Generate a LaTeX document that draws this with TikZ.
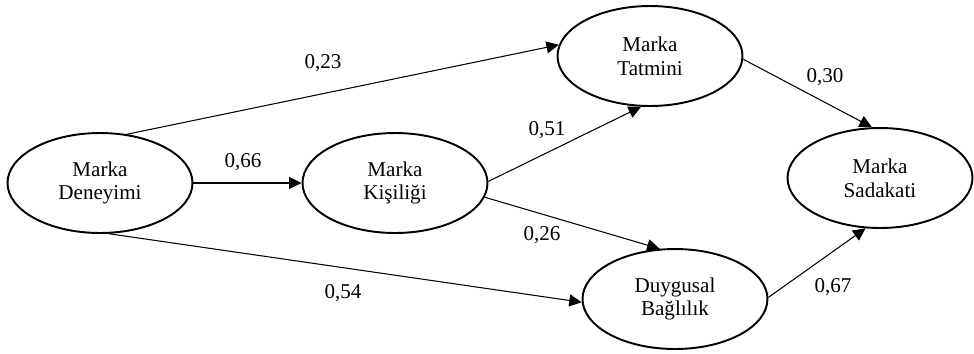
\documentclass[tikz,border=0pt]{standalone}
\usepackage{fontspec}
\setmainfont{Liberation Serif}
\usetikzlibrary{shapes.geometric,arrows.meta}

\begin{document}
\begin{tikzpicture}[x=0.02cm,y=-0.02cm,
    construct/.style={draw,ellipse,line width=1.1pt,minimum width=3.7cm,minimum height=2cm,
      inner sep=0pt,align=center,font=\fontsize{12}{13.5}\selectfont},
    effect/.style={-{Triangle[length=2.5mm,width=2.4mm]},line width=0.6pt},
    coef/.style={font=\fontsize{12}{13.5}\selectfont}]
    \useasboundingbox (0,0) rectangle (974,353);
    % constructs
    \node[construct] (den) at (100,183) {Marka\\Deneyimi};
    \node[construct] (kis) at (395,183) {Marka\\Ki\c{s}ili\u{g}i};
    \node[construct] (tat) at (650,56) {Marka\\Tatmini};
    \node[construct] (duy) at (675,299) {Duygusal\\Ba\u{g}l\i l\i k};
    \node[construct] (sad) at (880,178) {Marka\\Sadakati};
    % paths
    \draw[effect] (den.61) -- (tat.173);
    \draw[effect] (den.east) -- (kis.west);
    \draw[effect] (den.-80) -- (duy.182);
    \draw[effect] (kis.1) -- (tat.260);
    \draw[effect] (kis.-9) -- (duy.107);
    \draw[effect] (tat.-2) -- (sad.99);
    \draw[effect] (duy.1) -- (sad.254);
    % coefficients
    \node[coef] (c23) at (323,63) {0,23};
    \node[coef] (c66) at (243,162) {0,66};
    \node[coef] (c54) at (343,293) {0,54};
    \node[coef] (c51) at (547,130) {0,51};
    \node[coef] (c26) at (542,235) {0,26};
    \node[coef] (c30) at (825,77) {0,30};
    \node[coef] (c67) at (833,287) {0,67};
\end{tikzpicture}
\end{document}
